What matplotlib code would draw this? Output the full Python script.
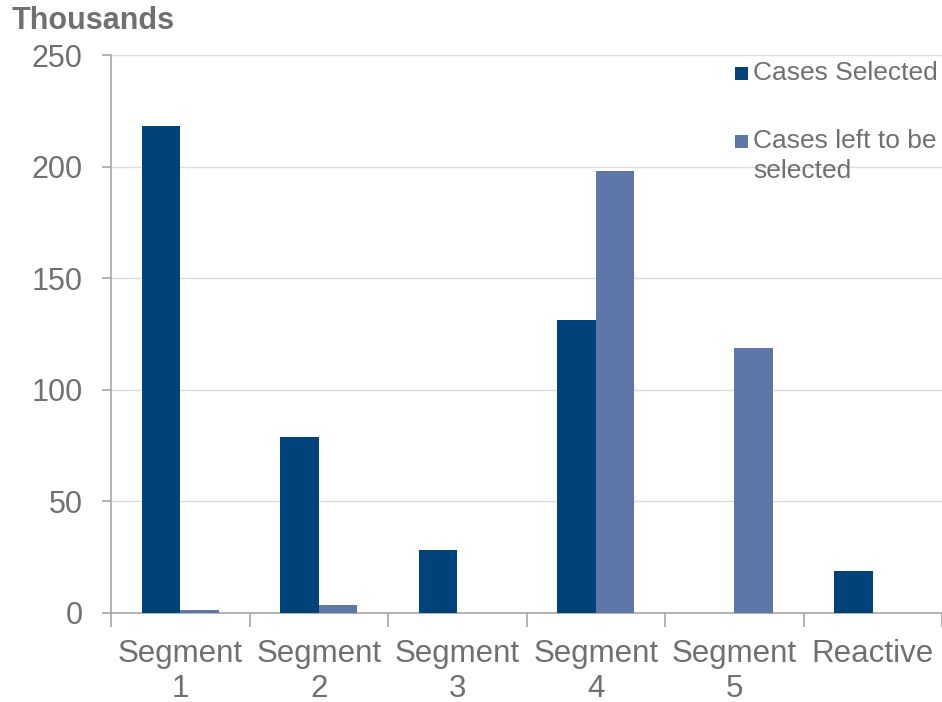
import matplotlib
matplotlib.use("Agg")
import matplotlib.pyplot as plt
from matplotlib.patches import Rectangle
import numpy as np

categories = ["Segment\n1", "Segment\n2", "Segment\n3", "Segment\n4", "Segment\n5", "Reactive"]
cases_selected = [218.2, 78.9, 28.2, 131.3, 0.0, 18.8]
cases_left = [1.3, 3.6, 0.0, 198.0, 118.7, 0.0]
series_names = ["Cases Selected", "Cases left to be\nselected"]

dark = "#00427A"
light = "#5F76A8"
text_gray = "#707070"
axis_gray = "#A6A6A6"
grid_gray = "#DDDDDD"

plt.rcParams["font.family"] = ["Liberation Sans", "DejaVu Sans"]

fig = plt.figure(figsize=(9.42, 7.02), dpi=100)
ax = fig.add_axes([111 / 942, 89 / 702, 1 - 111 / 942, (613 - 55) / 702])

x = np.arange(len(categories))
w = 0.278
ax.bar(x - w / 2, cases_selected, width=w, color=dark, zorder=3)
ax.bar(x + w / 2, cases_left, width=w, color=light, zorder=3)

ax.set_xlim(-0.5, len(categories) - 0.5)
ax.set_ylim(0, 250)
ax.set_yticks([0, 50, 100, 150, 200, 250])
ax.yaxis.grid(True, color=grid_gray, linewidth=1, zorder=0)
ax.set_axisbelow(True)

for s in ["top", "right"]:
    ax.spines[s].set_visible(False)
for s in ["left", "bottom"]:
    ax.spines[s].set_color(axis_gray)
    ax.spines[s].set_linewidth(1.2)

# category labels centred, tick marks at category boundaries
ax.set_xticks(x)
ax.set_xticklabels(categories, fontsize=22.5, color=text_gray, linespacing=1.24)
ax.tick_params(axis="x", length=0, pad=18.5)
ax.set_xticks(np.arange(-0.5, len(categories) + 0.5, 1), minor=True)
ax.tick_params(axis="x", which="minor", length=10, color=axis_gray, width=1.2)
ax.tick_params(axis="y", length=6.5, color=axis_gray, width=1.2, labelsize=22,
               labelcolor=text_gray, pad=14)

fig.text(12 / 942, 1 - 21 / 702, "Thousands", fontsize=22, fontweight="bold",
         color=text_gray, va="center", ha="left")

# legend: square swatch beside the first line of each entry
legend_rows = [(73, [73]), (141, [141, 171])]
for color, name, (sq_y, line_ys) in zip([dark, light], series_names, legend_rows):
    fig.patches.append(Rectangle((735 / 942, 1 - (sq_y + 6.5) / 702), 13 / 942, 13 / 702,
                                 transform=fig.transFigure, facecolor=color,
                                 edgecolor="none"))
    for line, ly in zip(name.split("\n"), line_ys):
        fig.text(753 / 942, 1 - ly / 702, line, fontsize=19, color=text_gray,
                 va="center", ha="left")

fig.savefig("out.png", dpi=100)
